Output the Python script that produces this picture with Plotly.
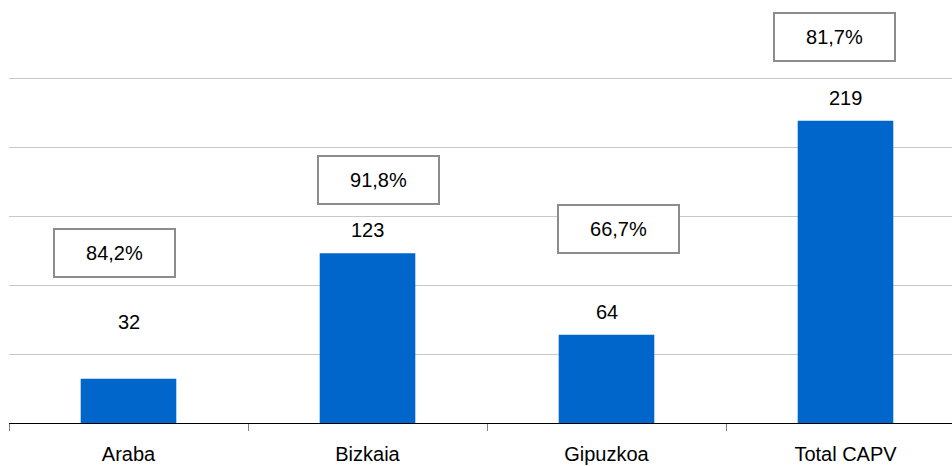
import plotly.graph_objects as go

categories = ["Araba", "Bizkaia", "Gipuzkoa", "Total CAPV"]
values = [32, 123, 64, 219]
pct_labels = ["84,2%", "91,8%", "66,7%", "81,7%"]

# layout positions for labels
value_label_y = [73, 123, 64, 219]
value_label_shift = [0, 23, 23, 23]
pct_box_y = [123.2, 176.0, 140.6, 279.4]
pct_box_xshift = [-14, 11, 12, -11]

FONT = "Liberation Sans, Arial, sans-serif"

fig = go.Figure()
fig.add_trace(go.Bar(
    x=categories, y=values,
    marker=dict(color="#0066CC", line=dict(width=0)),
    width=0.40,
    hoverinfo="skip",
))

annotations = []
for i, c in enumerate(categories):
    annotations.append(dict(
        x=c, y=value_label_y[i], yshift=value_label_shift[i],
        text=str(values[i]), showarrow=False,
        font=dict(family=FONT, size=20, color="#000000"),
        xanchor="center", yanchor="middle",
    ))
    annotations.append(dict(
        x=c, y=pct_box_y[i], xshift=pct_box_xshift[i],
        text=pct_labels[i], showarrow=False,
        font=dict(family=FONT, size=20, color="#000000"),
        xanchor="center", yanchor="middle",
        bordercolor="#8c8c8c", borderwidth=2, borderpad=0,
        bgcolor="#ffffff", width=119, height=46,
    ))

fig.update_layout(
    width=952, height=466,
    margin=dict(l=9, r=0, t=0, b=43),
    paper_bgcolor="white", plot_bgcolor="white",
    showlegend=False,
    annotations=annotations,
    xaxis=dict(
        type="category",
        range=[-0.5, -0.5 + 943 / 239],
        tickson="boundaries",
        ticks="outside", ticklen=7, tickcolor="#808080", tickwidth=1,
        showline=True, linecolor="#000000", linewidth=1,
        showgrid=False,
        ticklabelstandoff=13,
        tickfont=dict(family=FONT, size=20, color="#000000"),
    ),
    yaxis=dict(
        range=[0, 423 / 1.38],
        tickvals=[50, 100, 150, 200, 250],
        showticklabels=False,
        showgrid=True, gridcolor="#c8c8c8", gridwidth=1,
        zeroline=False, showline=False, ticks="",
    ),
)

fig.write_html("out.html", config={"displayModeBar": False},
               post_script="document.body.style.margin='0';document.body.style.padding='0';")
